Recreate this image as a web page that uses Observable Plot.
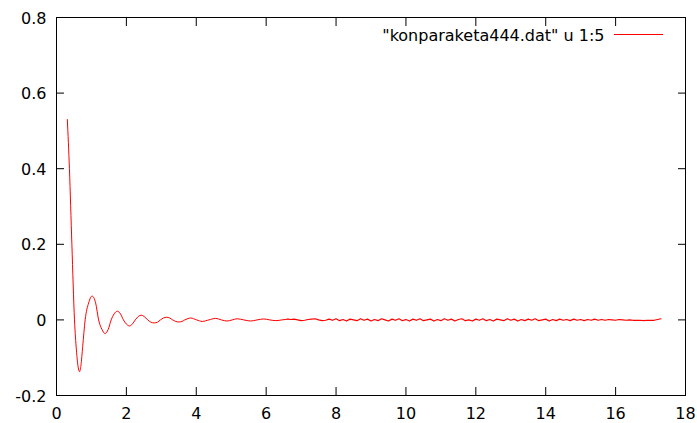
<!DOCTYPE html>
<html>
<head>
<meta charset="utf-8">
<script src="https://cdn.jsdelivr.net/npm/d3@7"></script>
<script src="https://cdn.jsdelivr.net/npm/@observablehq/plot@0.6"></script>
<style>
  html, body { margin: 0; padding: 0; background: #fff; }
  #chart { width: 697px; height: 423px; }
  svg { font-family: "DejaVu Sans", sans-serif; }
</style>
</head>
<body>
<div id="chart"></div>
<script>
// ---- data ----
const seriesLabel = "\"konparaketa444.dat\" u 1:5";

const headX = [0.31, 0.37, 0.44, 0.515, 0.57, 0.62, 0.66, 0.70, 0.75, 0.82, 0.92, 1.02, 1.12, 1.205, 1.30, 1.39, 1.48, 1.565, 1.65, 1.74, 1.83, 1.915, 2.00, 2.09, 2.17, 2.255, 2.34, 2.42, 2.51, 2.61, 2.70, 2.80, 2.89, 2.975, 3.06, 3.15, 3.24, 3.325, 3.41, 3.50, 3.59, 3.67, 3.76, 3.84, 4.01, 4.17, 4.36, 4.55, 4.72, 4.88, 5.03, 5.17, 5.36, 5.55, 5.74, 5.93, 6.10, 6.28, 6.45, 6.62];
const headY = [0.53, 0.40, 0.20, 0.0, -0.08, -0.125, -0.137, -0.12, -0.07, 0.0, 0.045, 0.063, 0.045, 0.0, -0.025, -0.036, -0.025, 0.0, 0.016, 0.023, 0.016, 0.0, -0.011, -0.016, -0.011, 0.0, 0.009, 0.0125, 0.009, 0.0, -0.006, -0.008, -0.006, 0.0, 0.005, 0.007, 0.005, 0.0, -0.004, -0.0055, -0.004, 0.0, 0.0035, 0.005, 0.0, -0.004, 0.0, 0.004, 0.0, -0.003, 0.0, 0.003, 0.0, -0.003, 0.0, 0.0025, 0.0, -0.002, 0.0, 0.002];

const tailX = [6.62, 6.7, 6.8, 6.9, 7.0, 7.1, 7.2, 7.3, 7.4, 7.5, 7.6, 7.7, 7.8, 7.9, 8.0, 8.1, 8.2, 8.3, 8.4, 8.5, 8.6, 8.7, 8.8, 8.9, 9.0, 9.1, 9.2, 9.3, 9.4, 9.5, 9.6, 9.7, 9.8, 9.9, 10.0, 10.1, 10.2, 10.3, 10.4, 10.5, 10.6, 10.7, 10.8, 10.9, 11.0, 11.1, 11.2, 11.3, 11.4, 11.5, 11.6, 11.7, 11.8, 11.9, 12.0, 12.1, 12.2, 12.3, 12.4, 12.5, 12.6, 12.7, 12.8, 12.9, 13.0, 13.1, 13.2, 13.3, 13.4, 13.5, 13.6, 13.7, 13.8, 13.9, 14.0, 14.1, 14.2, 14.3, 14.4, 14.5, 14.6, 14.7, 14.8, 14.9, 15.0, 15.1, 15.2, 15.3, 15.4, 15.5, 15.6, 15.7, 15.8, 15.9, 16.0, 16.1, 16.2, 16.3, 16.4, 16.5, 16.6, 16.7, 16.8, 16.9, 17.0, 17.1, 17.2, 17.3];
const tailY = [0.002, 0.001, 0.002, 0.000, -0.002, -0.001, 0.001, 0.002, 0.003, 0.000, -0.002, -0.001, 0.002, -0.001, 0.003, -0.002, 0.001, -0.003, 0.002, 0.000, -0.002, 0.003, -0.001, 0.002, -0.003, 0.001, -0.002, 0.003, 0.000, -0.003, 0.002, -0.001, 0.003, -0.002, 0.001, -0.003, 0.002, -0.001, 0.003, -0.002, 0.000, 0.002, -0.003, 0.001, -0.002, 0.003, -0.001, 0.002, -0.003, 0.001, 0.003, -0.002, 0.000, -0.003, 0.002, -0.001, 0.003, -0.002, 0.001, -0.003, 0.002, 0.000, -0.002, 0.003, -0.001, 0.002, -0.003, 0.001, -0.002, 0.002, -0.001, 0.003, -0.002, 0.000, 0.002, -0.003, 0.001, -0.002, 0.002, -0.001, 0.001, -0.002, 0.002, -0.001, 0.001, -0.002, 0.001, -0.001, 0.002, -0.001, 0.001, -0.001, 0.001, 0.000, -0.001, 0.001, 0.000, -0.001, 0.000, -0.001, -0.001, -0.001, -0.002, -0.001, -0.001, -0.001, 0.001, 0.003];

const xTicks = [0, 2, 4, 6, 8, 10, 12, 14, 16, 18];
const xTickLabels = ["0", "2", "4", "6", "8", "10", "12", "14", "16", "18"];
const yTicks = [-0.2, 0, 0.2, 0.4, 0.6, 0.8];
const yTickLabels = ["-0.2", "0", "0.2", "0.4", "0.6", "0.8"];

// ---- build tables ----
const head = headX.map((x, i) => ({x, y: headY[i]}));
const tail = tailX.map((x, i) => ({x, y: tailY[i]}));

const xLab = new Map(xTicks.map((t, i) => [t, xTickLabels[i]]));
const yLab = new Map(yTicks.map((t, i) => [t, yTickLabels[i]]));

const chart = Plot.plot({
  width: 697,
  height: 423,
  marginLeft: 56,
  marginRight: 12,
  marginTop: 17,
  marginBottom: 28,
  style: {fontFamily: "DejaVu Sans, sans-serif", fontSize: "16px", color: "black", background: "white"},
  x: {domain: [0, 18]},
  y: {domain: [-0.2, 0.8]},
  marks: [
    Plot.frame({stroke: "black", strokeWidth: 1}),
    Plot.axisX({anchor: "bottom", ticks: xTicks, tickSize: 0, tickPadding: 12, tickFormat: d => xLab.get(d), label: null, fontSize: 16}),
    Plot.axisX({anchor: "bottom", ticks: xTicks, tickSize: -8, text: null, label: null}),
    Plot.axisX({anchor: "top", ticks: xTicks, tickSize: -8, text: null, label: null}),
    Plot.axisY({anchor: "left", ticks: yTicks, tickSize: 0, tickPadding: 10, dy: 1, tickFormat: d => yLab.get(d), label: null, fontSize: 16}),
    Plot.axisY({anchor: "left", ticks: yTicks, tickSize: -8, text: null, label: null}),
    Plot.axisY({anchor: "right", ticks: yTicks, tickSize: -8, text: null, label: null}),
    Plot.line(head, {x: "x", y: "y", stroke: "#ff0000", strokeWidth: 1, curve: "monotone-x"}),
    Plot.line(tail, {x: "x", y: "y", stroke: "#ff0000", strokeWidth: 1.2, curve: "linear"}),
    Plot.text([seriesLabel], {frameAnchor: "top-right", textAnchor: "end", lineAnchor: "middle", dx: -81, dy: 18, fontSize: 16, fill: "black"})
  ]
});

// legend sample line
d3.select(chart).append("line")
  .attr("x1", 614).attr("x2", 663)
  .attr("y1", 34.5).attr("y2", 34.5)
  .attr("stroke", "#ff0000").attr("stroke-width", 1);

document.getElementById("chart").appendChild(chart);
</script>
</body>
</html>
